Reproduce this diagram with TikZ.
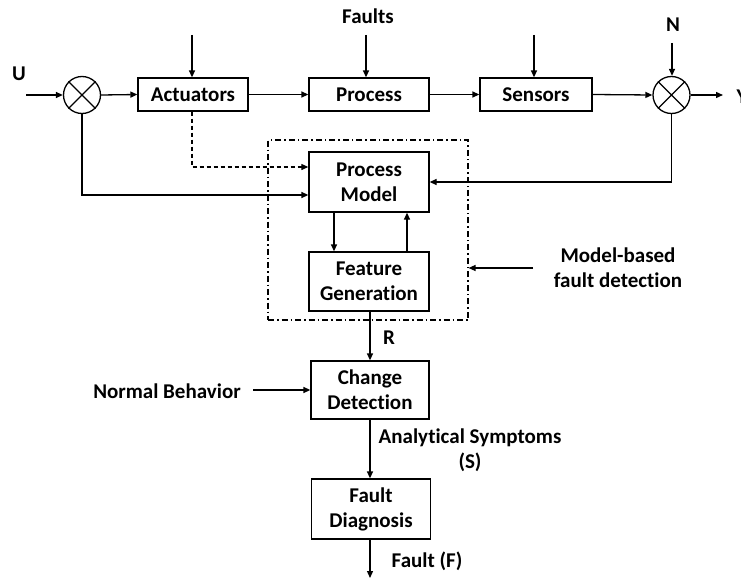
\documentclass[tikz,border=0pt]{standalone}
\usepackage{fontspec}
\setmainfont{Carlito}[Ligatures=NoCommon]
\usetikzlibrary{arrows.meta}
\begin{document}
\begin{tikzpicture}[x=1pt,y=-1pt,
  font=\fontsize{21}{25}\selectfont\bfseries,
  line width=1.3pt,
  conn/.style={-{Triangle[length=7pt,width=6pt]}},
  blockbox/.style={draw,rectangle,align=center,inner sep=0pt},
  mixer/.style={draw,circle,minimum size=37pt,inner sep=0pt},
  lbl/.style={align=center,inner sep=0pt}]
\useasboundingbox (0,0) rectangle (741,578);

% signal path
\node[mixer] (sum1) at (82,95) {};
\draw[line width=1.1pt] (sum1.north east) -- (sum1.south west) (sum1.north west) -- (sum1.south east);
\node[blockbox,minimum width=110pt,minimum height=33pt] (act) at (193,94.5) {Actuators};
\node[blockbox,minimum width=120pt,minimum height=33pt] (proc) at (369,94.5) {Process};
\node[blockbox,minimum width=112pt,minimum height=33pt] (sens) at (536,94.5) {Sensors};
\node[mixer] (sum2) at (671.5,95) {};
\draw[line width=1.1pt] (sum2.north east) -- (sum2.south west) (sum2.north west) -- (sum2.south east);

% model-based fault detection block
\node[draw,rectangle,inner sep=0pt,minimum width=200pt,minimum height=180pt,
      dash pattern=on 6pt off 3pt on 1.5pt off 3pt,line width=1.1pt] (mbox) at (368,230) {};
\node[blockbox,minimum width=120pt,minimum height=60pt] (pm) at (369,182) {Process\\Model};
\node[blockbox,minimum width=120pt,minimum height=59pt] (fg) at (369,281.5) {Feature\\Generation};

% evaluation chain
\node[blockbox,minimum width=118pt,minimum height=58pt] (cd) at (370,390) {Change\\Detection};
\node[blockbox,minimum width=119pt,minimum height=60pt] (fd) at (371,509) {Fault\\Diagnosis};

% labels
\node[lbl] (lU) at (19,74) {U};
\node[lbl] (lFaults) at (368,16) {Faults};
\node[lbl] (lN) at (673,25) {N};
\node[lbl,anchor=west] (lY) at (736,97) {Y};
\node[lbl] (lMB) at (618,268) {Model-based\\fault detection};
\node[lbl] (lR) at (389,338) {R};
\node[lbl] (lNB) at (167,391) {Normal Behavior};
\node[lbl] (lAS) at (470,450) {Analytical Symptoms\\(S)};
\node[lbl] (lF) at (427,561) {Fault (F)};

% free ends of connectors
\coordinate (uIn) at (26,95);
\coordinate (yOut) at (723,95);
\coordinate (tAct) at (192,35);
\coordinate (tProc) at (366,35);
\coordinate (tSens) at (534,35);
\coordinate (tN) at (672,43);
\coordinate (dashRow) at (192,167);
\coordinate (solidRow) at (82,195);
\coordinate (pmDown) at (334,0);
\coordinate (pmUp) at (407,0);
\coordinate (mbIn) at (533,268);
\coordinate (nbIn) at (253,390);
\coordinate (fOut) at (370,578);

% forward path
\draw[conn] (uIn) -- (sum1.west);
\draw[conn] (sum1.east) -- (act.west);
\draw[conn] (act.east) -- (proc.west);
\draw[conn] (proc.east) -- (sens.west);
\draw[conn] (sens.east) -- (sum2.west);
\draw[conn] (sum2.east) -- (yOut);

% disturbances and faults
\draw[conn] (tAct) -- (tAct |- act.north);
\draw[conn] (tProc) -- (tProc |- proc.north);
\draw[conn] (tSens) -- (tSens |- sens.north);
\draw[conn] (tN) -- (tN |- sum2.north);

% inputs to the process model
\draw[conn,dash pattern=on 4pt off 3pt,line width=1.1pt] (tAct |- act.south) |- (pm.west |- dashRow);
\draw[conn] (sum1.south) |- (pm.west |- solidRow);
\draw[conn] (sum2.south) |- (pm.east);

% model / feature loop
\draw[conn] (pmDown |- pm.south) -- (pmDown |- fg.north);
\draw[conn] (pmUp |- fg.north) -- (pmUp |- pm.south);
\draw[conn] (mbIn) -- (mbIn -| mbox.east);

% residual evaluation
\draw[conn] (fOut |- fg.south) -- (fOut |- cd.north);
\draw[conn] (nbIn) -- (cd.west);
\draw[conn] (fOut |- cd.south) -- (fOut |- fd.north);
\draw[conn] (fOut |- fd.south) -- (fOut);
\end{tikzpicture}
\end{document}
